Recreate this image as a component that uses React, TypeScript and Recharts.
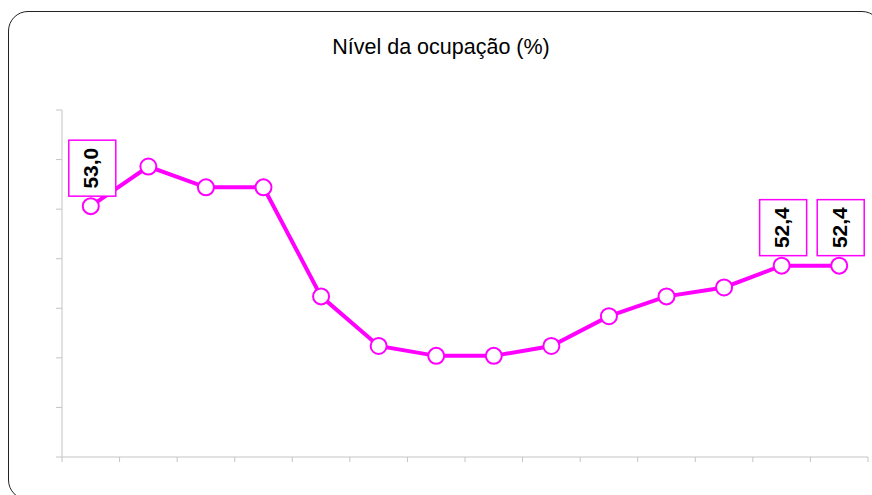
import React from "react";
import { LineChart, Line, XAxis, YAxis, LabelList } from "recharts";

const categories = ["1", "2", "3", "4", "5", "6", "7", "8", "9", "10", "11", "12", "13", "14"];
const ocupacao = [53.03, 53.43, 53.22, 53.22, 52.12, 51.62, 51.52, 51.52, 51.62, 51.92, 52.12, 52.21, 52.43, 52.43];
const labeledIndices = [0, 12, 13];
const yTicks = [50.5, 51, 51.5, 52, 52.5, 53, 53.5, 54];
const xTicks = [0, 1, 2, 3, 4, 5, 6, 7, 8, 9, 10, 11, 12, 13, 14];

const data = categories.map((c, i) => ({ cat: c, pos: i + 0.5, value: ocupacao[i], idx: i }));

const MAGENTA = "#FF00FF";
const AXIS = "#c4c4c4";

const EmptyTick = () => <g />;

const BoxLabel = (props: any) => {
  const { x, y, value, index } = props;
  if (!labeledIndices.includes(index)) return null;
  const cx = Number(x);
  const cy = Number(y);
  const w = 47;
  const h = 56;
  const bx = cx - 22;
  const by = cy - 10 - h;
  const tx = bx + w / 2 - 1.5;
  const ty = by + h / 2;
  const txt = Number(value).toFixed(1).replace(".", ",");
  return (
    <g>
      <rect x={bx} y={by} width={w} height={h} fill="#fff" stroke={MAGENTA} strokeWidth={1.5} />
      <text
        x={tx}
        y={ty}
        transform={`rotate(-90 ${tx} ${ty})`}
        textAnchor="middle"
        dominantBaseline="central"
        fontFamily="Liberation Sans, Arial, sans-serif"
        fontWeight="bold"
        fontSize={21}
        fill="#000"
      >
        {txt}
      </text>
    </g>
  );
};

export default function App() {
  return (
    <div style={{ position: "absolute", left: 0, top: 0, width: 872, height: 495, overflow: "hidden", background: "#fff" }}>
      <div
        style={{
          position: "absolute",
          left: 8,
          top: 11,
          width: 874,
          height: 489,
          border: "1.5px solid #222",
          borderRadius: 20,
          boxSizing: "border-box",
        }}
      />
      <div
        style={{
          position: "absolute",
          left: 0,
          top: 32,
          width: 882,
          textAlign: "center",
          fontFamily: "Liberation Sans, Arial, sans-serif",
          fontSize: 21.5,
          color: "#000",
          lineHeight: "30px",
        }}
      >
        Nível da ocupação (%)
      </div>
      <div style={{ position: "absolute", left: 0, top: 0 }}>
        <LineChart width={872} height={495} data={data} margin={{ top: 110, right: 4, left: 2, bottom: 0 }}>
          <XAxis
            dataKey="pos"
            type="number"
            domain={[0, 14]}
            ticks={xTicks}
            tick={<EmptyTick />}
            tickLine={{ stroke: AXIS }}
            tickSize={5}
            height={38}
            stroke={AXIS}
            interval={0}
            allowDataOverflow
          />
          <YAxis
            type="number"
            domain={[50.5, 54]}
            ticks={yTicks}
            tick={<EmptyTick />}
            tickLine={{ stroke: AXIS }}
            tickSize={6}
            width={60}
            stroke={AXIS}
            interval={0}
            allowDataOverflow
          />
          <Line
            type="linear"
            dataKey="value"
            stroke={MAGENTA}
            strokeWidth={4}
            dot={{ r: 8, fill: "#fff", stroke: MAGENTA, strokeWidth: 2 }}
            isAnimationActive={false}
          >
            <LabelList dataKey="value" content={<BoxLabel />} />
          </Line>
        </LineChart>
      </div>
    </div>
  );
}
